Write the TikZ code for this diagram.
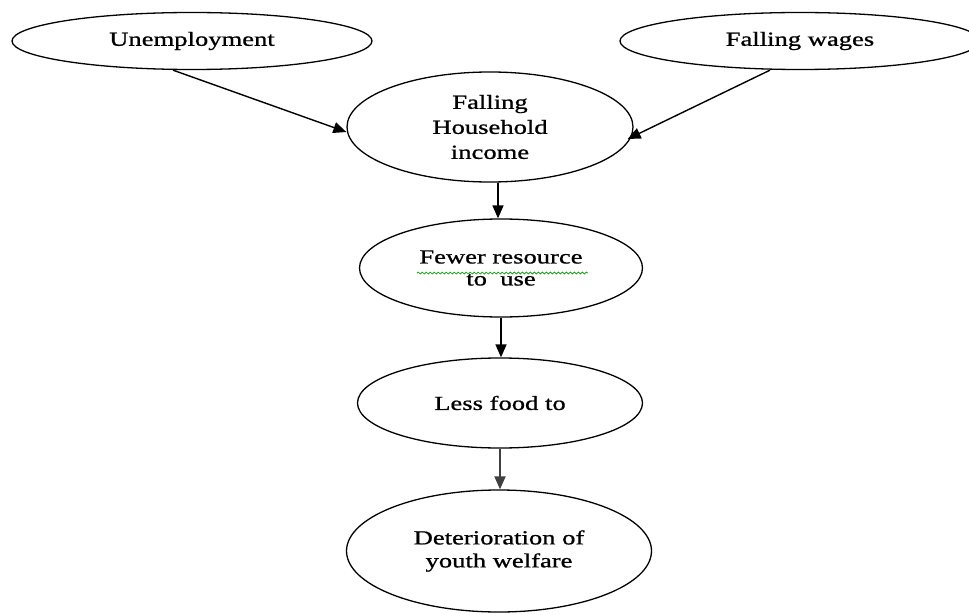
\documentclass[tikz,border=0pt]{standalone}
\usepackage{fontspec}
\setmainfont{Liberation Serif}[FakeStretch=1.33,FakeBold=0.9]
\usetikzlibrary{shapes.geometric,arrows.meta,decorations.pathmorphing}
\begin{document}
\begin{tikzpicture}[x=1pt,y=-1pt,
  bub/.style={draw, ellipse, line width=1.3pt, inner sep=0pt, align=center,
    font=\fontsize{20}{24}\selectfont},
  arr/.style={line width=1.4pt, -{Triangle[length=13pt,width=11pt]}},
  spell/.style={draw=green!60!black, line width=0.7pt, decorate,
    decoration={snake, amplitude=1pt, segment length=4pt}}]
\useasboundingbox (0,0) rectangle (969,615);
\node[bub, minimum width=360pt, minimum height=57pt] (unemp) at (192,41) {Unemployment};
\node[bub, minimum width=360pt, minimum height=57pt] (wages) at (800,41) {Falling wages};
\node[bub, minimum width=286pt, minimum height=110pt, font=\fontsize{20}{25}\selectfont] (house) at (490,127) {Falling\\Household\\income};
\node[bub, minimum width=283pt, minimum height=98pt, font=\fontsize{20}{22}\selectfont] (fewer) at (501,268) {Fewer resource\\to\ \ use};
\node[bub, minimum width=285pt, minimum height=90pt] (less) at (500,403) {\raisebox{-5pt}{Less food to}};
\node[bub, minimum width=305pt, minimum height=122pt, font=\fontsize{20}{23}\selectfont] (det) at (499,551) {Deterioration of\\youth welfare};
\draw[spell] ([xshift=-84pt,yshift=-5pt]fewer.center) -- ([xshift=87pt,yshift=-5pt]fewer.center);
\draw[arr] ([xshift=-19pt]unemp.south) -- ([yshift=-5pt]house.west);
\draw[arr] ([xshift=-30pt]wages.south) -- ([xshift=-6pt,yshift=-12pt]house.east);
\draw[arr] ([xshift=8pt]house.south) -- ([xshift=8pt]house.south |- fewer.north);
\draw[arr] (fewer.south) -- (fewer.south |- less.north);
\draw[arr, line width=2pt, draw=black!75] (less.south) -- (less.south |- det.north);
\end{tikzpicture}
\end{document}
